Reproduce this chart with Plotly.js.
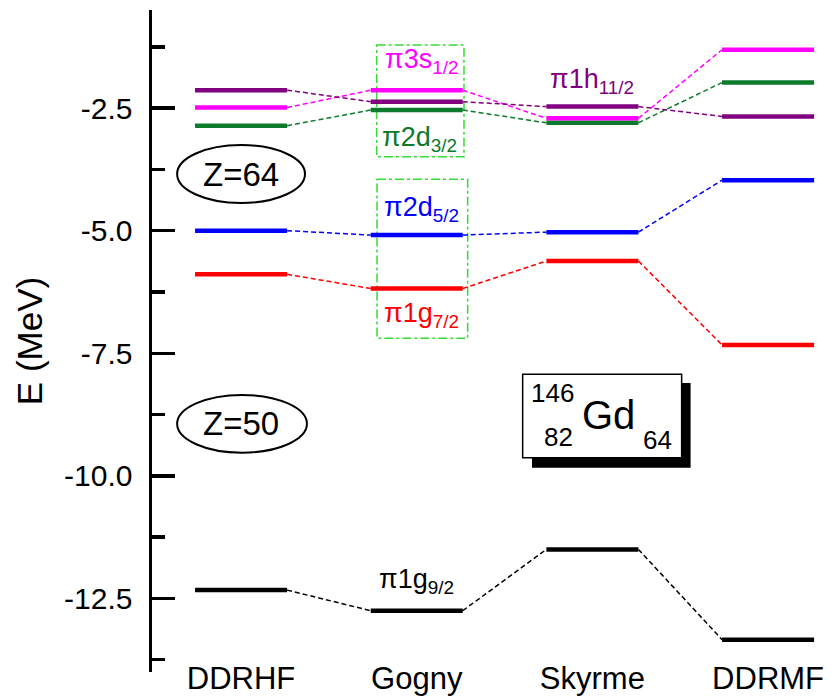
<!DOCTYPE html>
<html>
<head>
<meta charset="utf-8">
<script src="https://cdn.plot.ly/plotly-3.0.1.min.js"></script>
<style>html,body{margin:0;padding:0;background:#fff;}#chart{width:835px;height:697px;}</style>
</head>
<body>
<div id="chart"></div>
<script>
// ---- data (single-particle proton levels in 146Gd, MeV) ----
var methods = ['DDRHF', 'Gogny', 'Skyrme', 'DDRMF'];
var pi1g92  = [-12.33, -12.75, -11.50, -13.34];
var pi1g72  = [-5.89, -6.18, -5.62, -7.33];
var pi2d52  = [-5.00, -5.09, -5.03, -3.97];
var pi2d32  = [-2.86, -2.54, -2.80, -1.98];
var pi3s12  = [-2.49, -2.135, -2.71, -1.31];
var pi1h112 = [-2.135, -2.37, -2.47, -2.67];
var yTickVals = [-2.5, -5.0, -7.5, -10.0, -12.5];
var yTickText = ['-2.5', '-5.0', '-7.5', '-10.0', '-12.5'];
var yMinorVals = [-1.25, -3.75, -6.25, -8.75, -11.25, -13.75];

var series = [
  {name: 'π1g9/2',  vals: pi1g92,  color: '#000000'},
  {name: 'π1g7/2',  vals: pi1g72,  color: '#ff0000'},
  {name: 'π2d5/2',  vals: pi2d52,  color: '#0000ff'},
  {name: 'π2d3/2',  vals: pi2d32,  color: '#0b7a2b'},
  {name: 'π3s1/2',  vals: pi3s12,  color: '#ff00ff'},
  {name: 'π1h11/2', vals: pi1h112, color: '#800080'}
];

var HW = 0.262; // half width of a level bar, in category units
var FONT = 'Liberation Sans, Arial, sans-serif';

var traces = [];
// connectors (dashed)
series.forEach(function (s) {
  var x = [], y = [];
  for (var i = 0; i < s.vals.length - 1; i++) {
    x.push(i + HW, i + 1 - HW, null);
    y.push(s.vals[i], s.vals[i + 1], null);
  }
  traces.push({x: x, y: y, mode: 'lines', type: 'scatter', hoverinfo: 'skip',
    line: {color: s.color, width: 1.5, dash: '5px,3px'}, showlegend: false});
});
// levels (solid bars)
series.forEach(function (s) {
  var x = [], y = [];
  for (var i = 0; i < s.vals.length; i++) {
    x.push(i - HW, i + HW, null);
    y.push(s.vals[i], s.vals[i], null);
  }
  traces.push({x: x, y: y, mode: 'lines', type: 'scatter', name: s.name,
    line: {color: s.color, width: 4.5}, showlegend: false});
});

function lab(text, xi, yv, color, xs, ys, size) {
  return {x: xi, y: yv, xref: 'x', yref: 'y', text: text, showarrow: false,
    xanchor: 'center', yanchor: 'middle', xshift: xs, yshift: ys,
    font: {family: FONT, size: size || 27, color: color}};
}

var annotations = [
  lab('π3s<sub>1/2</sub>', 1, pi3s12[1], '#ff00ff', 5, 29),
  lab('π2d<sub>3/2</sub>', 1, pi2d32[1], '#0b7a2b', 3, -29),
  lab('π2d<sub>5/2</sub>', 1, pi2d52[1], '#0000ff', 5, 26),
  lab('π1g<sub>7/2</sub>', 1, pi1g72[1], '#ff0000', 5, -26),
  lab('π1h<sub>11/2</sub>', 2, pi1h112[2], '#800080', 0, 26),
  lab('π1g<sub>9/2</sub>', 1, pi1g92[1], '#000000', 0, 30),
  // ellipse labels
  {x: 0, y: -3.86, xref: 'x', yref: 'y', text: 'Z=64', showarrow: false,
    font: {family: FONT, size: 33, color: '#000'}},
  {x: 0, y: -8.94, xref: 'x', yref: 'y', text: 'Z=50', showarrow: false,
    font: {family: FONT, size: 33, color: '#000'}},
  // nucleus box
  {x: 1.77, y: -8.32, xref: 'x', yref: 'y', text: '146', showarrow: false,
    font: {family: FONT, size: 26, color: '#000'}},
  {x: 2.093, y: -8.75, xref: 'x', yref: 'y', text: 'Gd', showarrow: false,
    font: {family: FONT, size: 40, color: '#000'}},
  {x: 1.807, y: -9.21, xref: 'x', yref: 'y', text: '82', showarrow: false,
    font: {family: FONT, size: 26, color: '#000'}},
  {x: 2.373, y: -9.27, xref: 'x', yref: 'y', text: '64', showarrow: false,
    font: {family: FONT, size: 26, color: '#000'}}
];

var boxGreen = {color: '#33dd33', width: 1.5, dash: 'dashdot'};
var shapes = [
  {type: 'rect', xref: 'x', yref: 'y', x0: 0.772, x1: 1.269, y0: -1.214, y1: -3.491, line: boxGreen, layer: 'below'},
  {type: 'rect', xref: 'x', yref: 'y', x0: 0.774, x1: 1.290, y0: -3.952, y1: -7.195, line: boxGreen, layer: 'below'},
  {type: 'circle', xref: 'x', yref: 'y', x0: -0.364, x1: 0.364, y0: -3.253, y1: -4.436, line: {color: '#000', width: 2}},
  {type: 'circle', xref: 'x', yref: 'y', x0: -0.364, x1: 0.375, y0: -8.351, y1: -9.527, line: {color: '#000', width: 2}},
  {type: 'rect', xref: 'x', yref: 'y', x0: 1.656, x1: 2.559, y0: -8.106, y1: -9.833, line: {width: 0}, fillcolor: '#000'},
  {type: 'rect', xref: 'x', yref: 'y', x0: 1.603, x1: 2.508, y0: -7.929, y1: -9.629, line: {color: '#000', width: 1.5}, fillcolor: '#fff'}
];

var layout = {
  width: 835, height: 697,
  margin: {l: 152, r: 0, t: 10, b: 25},
  paper_bgcolor: '#fff', plot_bgcolor: '#fff',
  font: {family: FONT, color: '#000'},
  xaxis: {
    range: [-0.507, 3.381], showgrid: false, zeroline: false, showline: false,
    tickmode: 'array', tickvals: [0, 1, 2, 3], ticktext: methods, ticks: '',
    tickfont: {family: FONT, size: 31, color: '#000'}, ticklabelstandoff: -15,
    fixedrange: true
  },
  yaxis: {
    range: [-14, -0.5], showgrid: false, zeroline: false,
    showline: true, linecolor: '#000', linewidth: 3.5,
    tickmode: 'array', tickvals: yTickVals, ticktext: yTickText,
    ticks: 'inside', ticklen: 23, tickwidth: 3.5, tickcolor: '#000',
    tickfont: {family: FONT, size: 30, color: '#000'}, ticklabelstandoff: 10,
    minor: {tickmode: 'array', tickvals: yMinorVals, ticks: 'inside', ticklen: 13, tickwidth: 3.5, tickcolor: '#000', showgrid: false},
    title: {text: 'E (MeV)', font: {family: FONT, size: 35, color: '#000'}, standoff: 12},
    fixedrange: true
  },
  annotations: annotations,
  shapes: shapes,
  showlegend: false
};

Plotly.newPlot('chart', traces, layout, {displayModeBar: false, staticPlot: true});
</script>
</body>
</html>
